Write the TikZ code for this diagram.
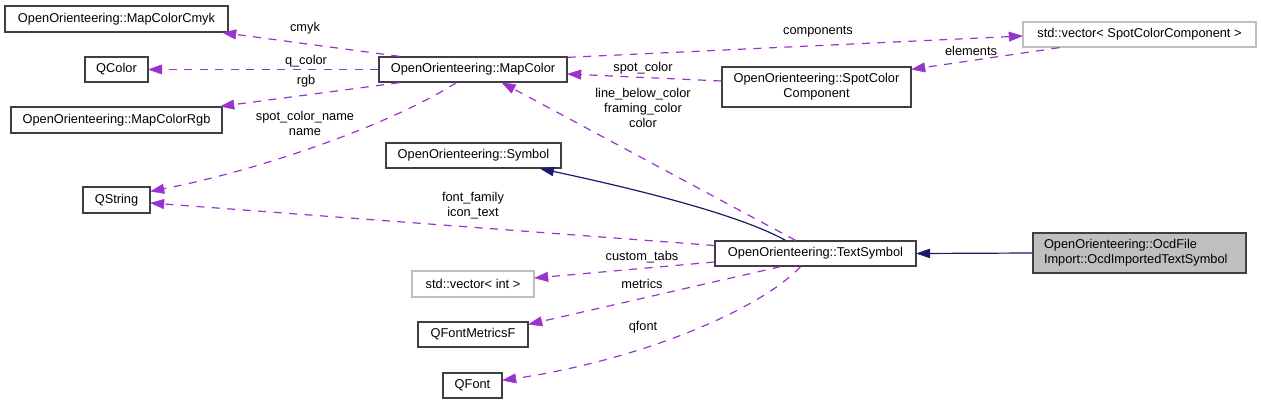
\documentclass[tikz,border=0pt]{standalone}
\usepackage{fontspec}
\setmainfont{Liberation Sans}
\usetikzlibrary{arrows.meta}
\definecolor{edgepurple}{HTML}{9A32CD}
\definecolor{edgenavy}{HTML}{191970}
\definecolor{boxline}{HTML}{404040}
\definecolor{greyline}{HTML}{BFBFBF}
\definecolor{ocdfill}{HTML}{BFBFBF}
\begin{document}
\begin{tikzpicture}[x=1pt,y=-1pt,
  font=\fontsize{12.8}{15}\selectfont,
  cls/.style={draw=boxline,line width=1.3pt,fill=white,inner sep=0pt,align=center},
  grey/.style={cls,draw=greyline},
  uses/.style={draw=edgepurple,line width=1.2pt,dash pattern=on 8pt off 7.5pt,
    -{Triangle[length=14pt,width=10pt,fill=edgepurple,line width=0.5pt,round]}},
  inherit/.style={draw=edgenavy,line width=1.2pt,
    -{Triangle[length=14pt,width=9.5pt,fill=edgenavy,line width=0.5pt,round]}},
  lbl/.style={inner sep=0pt,align=center}]
\useasboundingbox (0,0) rectangle (1261,404);

\node[cls,minimum width=223pt,minimum height=26pt] (cmyk) at (116.5,19) {OpenOrienteering::MapColorCmyk};
\node[cls,minimum width=63pt,minimum height=25pt] (qcolor) at (116.5,69.5) {QColor};
\node[cls,minimum width=211pt,minimum height=26pt] (rgb) at (116.5,120) {OpenOrienteering::MapColorRgb};
\node[cls,minimum width=67pt,minimum height=26pt] (qstring) at (116.5,200) {QString};
\node[cls,minimum width=188pt,minimum height=25pt] (mapcolor) at (473,69.5) {OpenOrienteering::MapColor};
\node[cls,minimum width=189pt,minimum height=40pt] (scc) at (816.5,87) {OpenOrienteering::SpotColor\\Component};
\node[grey,minimum width=233pt,minimum height=25pt] (vecscc) at (1139.5,34.5) {std::vector< SpotColorComponent >};
\node[cls,minimum width=175pt,minimum height=25pt] (symbol) at (473.5,155.5) {OpenOrienteering::Symbol};
\node[cls,minimum width=201pt,minimum height=25pt] (textsym) at (815.5,253.5) {OpenOrienteering::TextSymbol};
\node[grey,minimum width=122pt,minimum height=26pt] (vecint) at (473,284) {std::vector< int >};
\node[cls,minimum width=110pt,minimum height=25pt] (qfm) at (473,334.5) {QFontMetricsF};
\node[cls,minimum width=59pt,minimum height=25pt] (qfont) at (472.5,385.5) {QFont};
\node[cls,fill=ocdfill,minimum width=213pt,minimum height=40pt,text width=191pt,align=left] (ocd) at (1139.5,253) {OpenOrienteering::OcdFile\\Import::OcdImportedTextSymbol};

% edges
\draw[uses] ([xshift=21pt]mapcolor.north west) -- ([xshift=-6pt]cmyk.south east);
\draw[uses] (mapcolor.west) -- (qcolor.east);
\draw[uses] ([xshift=21pt]mapcolor.south west) -- ([xshift=-2pt]rgb.north east);
\draw[uses] ([xshift=78pt]mapcolor.south west) .. controls (390,125) and (260,170) .. ([yshift=-5pt]qstring.north east);
\draw[uses] ([yshift=-1pt]mapcolor.north east) -- ([yshift=-1.5pt]vecscc.west);
\draw[uses] ([yshift=6pt]scc.west) -- ([yshift=-4.5pt]mapcolor.east);
\draw[uses] ([xshift=37pt]vecscc.south west) -- ([yshift=-3pt]scc.north east);
\draw[uses] ([xshift=-20pt]textsym.north) -- ([xshift=29pt]mapcolor.south);
\draw[inherit] ([xshift=-30pt]textsym.north) .. controls (740,215) and (640,190) .. ([xshift=67pt]symbol.south);
\draw[uses] ([yshift=8pt]textsym.west) -- ([yshift=-3pt]qstring.east);
\draw[uses] ([yshift=-8.5pt]textsym.west) -- ([yshift=6pt]vecint.east);
\draw[uses] ([xshift=-35pt]textsym.south) -- ([yshift=-3pt]qfm.north east);
\draw[uses] ([xshift=-15pt]textsym.south) .. controls (760,310) and (640,360) .. ([yshift=-8pt]qfont.north east);
\draw[inherit] (ocd.west) -- (textsym.east);

% labels
\node[lbl] (l-cmyk) at (305,28) {cmyk};
\node[lbl] (l-qcolor) at (306,61) {q\_color};
\node[lbl] (l-rgb) at (306,81) {rgb};
\node[lbl] (l-scn) at (305,123.5) {spot\_color\_name\\name};
\node[lbl] (l-comp) at (818,32) {components};
\node[lbl] (l-spot) at (643,68) {spot\_color};
\node[lbl] (l-lbc) at (643,108) {line\_below\_color\\framing\_color\\color};
\node[lbl] (l-elem) at (971,51) {elements};
\node[lbl] (l-ff) at (473,206) {font\_family\\icon\_text};
\node[lbl] (l-ct) at (642,257) {custom\_tabs};
\node[lbl] (l-met) at (642,284) {metrics};
\node[lbl] (l-qf) at (643,327) {qfont};
\end{tikzpicture}
\end{document}
